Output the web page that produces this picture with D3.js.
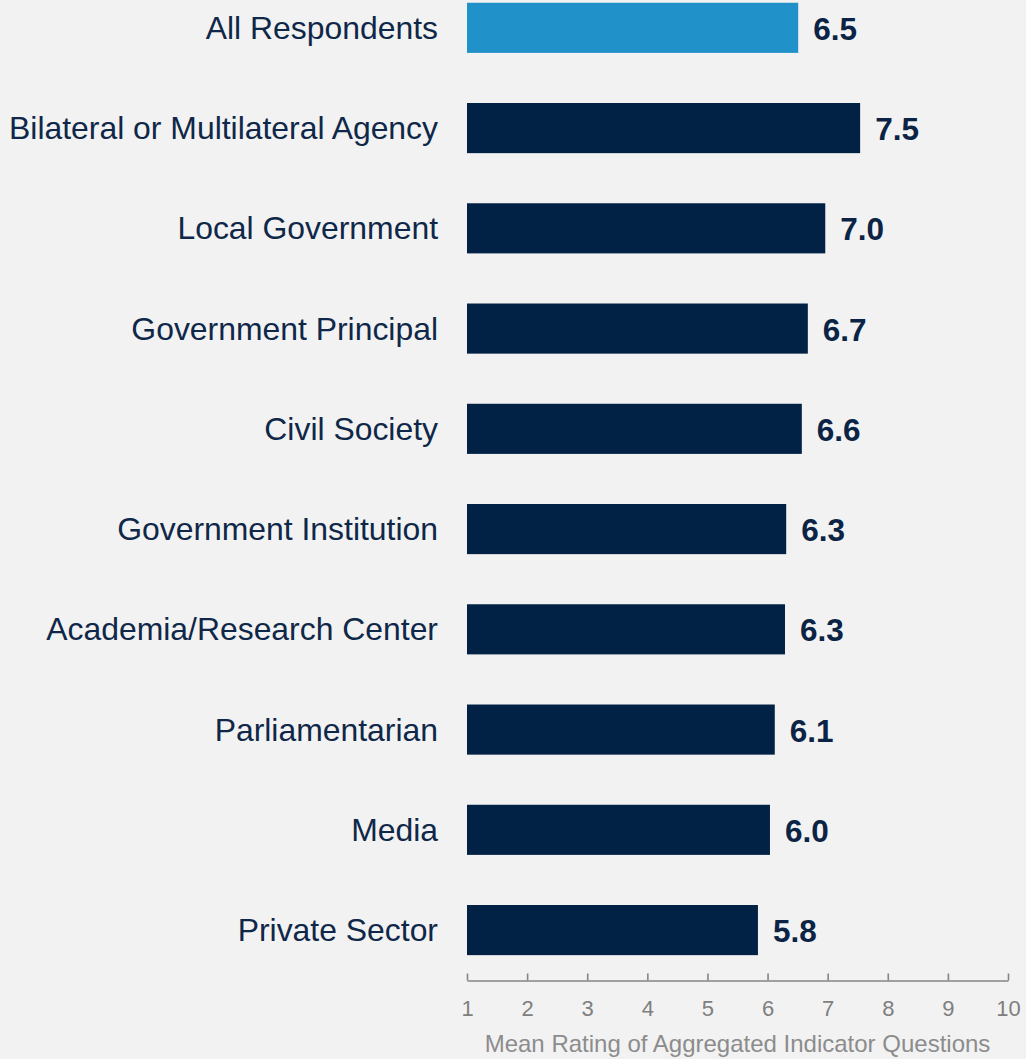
<!DOCTYPE html>
<html>
<head>
<meta charset="utf-8">
<script src="https://cdn.jsdelivr.net/npm/d3@7"></script>
<style>
  html, body { margin: 0; padding: 0; background: #f2f2f2; }
  svg { display: block; font-family: "Liberation Sans", Arial, sans-serif; }
</style>
</head>
<body>
<svg id="chart" width="1026" height="1059"></svg>
<script>
const categories = [
  "All Respondents",
  "Bilateral or Multilateral Agency",
  "Local Government",
  "Government Principal",
  "Civil Society",
  "Government Institution",
  "Academia/Research Center",
  "Parliamentarian",
  "Media",
  "Private Sector"
];
const values = [6.51, 7.54, 6.96, 6.67, 6.57, 6.31, 6.29, 6.12, 6.04, 5.84];
const valueLabels = ["6.5", "7.5", "7.0", "6.7", "6.6", "6.3", "6.3", "6.1", "6.0", "5.8"];
const highlight = ["All Respondents"];
const tickValues = [1, 2, 3, 4, 5, 6, 7, 8, 9, 10];
const axisTitle = "Mean Rating of Aggregated Indicator Questions";

const data = categories.map((c, i) => ({ cat: c, value: values[i], label: valueLabels[i] }));

const svg = d3.select("#chart");
const x = d3.scaleLinear().domain([1, 10]).range([467, 1008]);
const y = d3.scaleBand().domain(categories).range([-22.3, 980.2])
  .paddingInner(0.5).paddingOuter(0.25);

svg.append("rect").attr("width", 1026).attr("height", 1059).attr("fill", "#f2f2f2");

// bars
svg.append("g").selectAll("rect").data(data).join("rect")
  .attr("x", x(1))
  .attr("y", d => y(d.cat))
  .attr("width", d => x(d.value) - x(1))
  .attr("height", y.bandwidth())
  .attr("fill", d => highlight.includes(d.cat) ? "#2191c9" : "#012244");

// value labels
svg.append("g").selectAll("text").data(data).join("text")
  .attr("x", d => x(d.value) + 15)
  .attr("y", d => y(d.cat) + y.bandwidth() / 2)
  .attr("dy", "0.38em")
  .style("font-size", "31.5px")
  .style("font-weight", "bold")
  .attr("fill", "#0b2445")
  .text(d => d.label);

// category labels
svg.append("g").selectAll("text").data(data).join("text")
  .attr("x", 438)
  .attr("y", d => y(d.cat) + y.bandwidth() / 2)
  .attr("dy", "0.35em")
  .attr("text-anchor", "end")
  .style("font-size", "31.9px")
  .attr("fill", "#0f2748")
  .text(d => d.cat);

// x axis
const axisY = 980.5;
const ax = svg.append("g")
  .attr("transform", `translate(0,${axisY})`)
  .call(d3.axisBottom(x).tickValues(tickValues).tickFormat(d3.format("d"))
    .tickSizeInner(-7).tickSizeOuter(0).tickPadding(20));
ax.attr("font-size", null).attr("font-family", null);
ax.select(".domain").attr("stroke", "#858585").attr("stroke-width", 1.6);
ax.selectAll(".tick line").attr("stroke", "#858585").attr("stroke-width", 1.6);
ax.selectAll(".tick text")
  .style("font-family", "'Liberation Sans', Arial, sans-serif")
  .style("font-size", "22px")
  .attr("fill", "#7f7f7f");

svg.append("text")
  .attr("x", (x.range()[0] + x.range()[1]) / 2)
  .attr("y", 1052)
  .attr("text-anchor", "middle")
  .style("font-size", "24px")
  .attr("fill", "#8c8c8c")
  .text(axisTitle);
</script>
</body>
</html>
